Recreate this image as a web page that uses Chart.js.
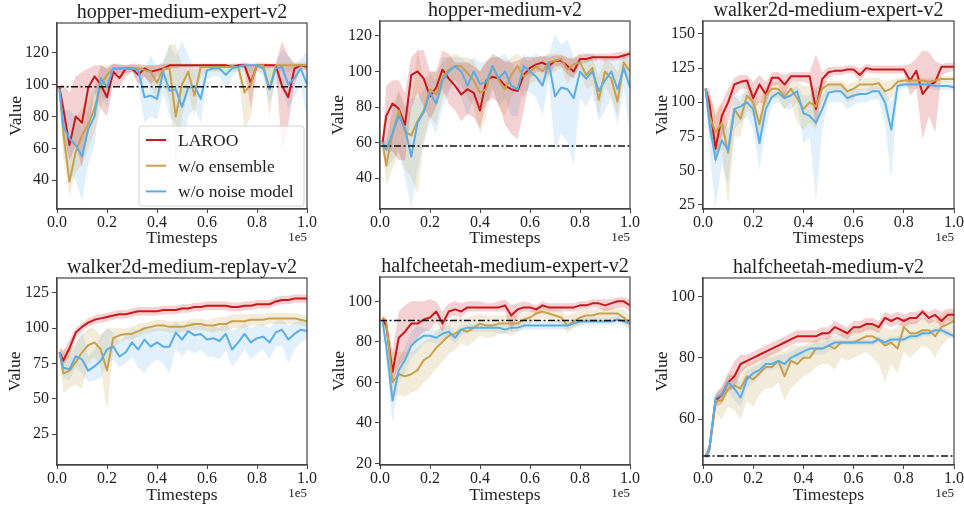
<!DOCTYPE html>
<html>
<head>
<meta charset="utf-8">
<script src="https://cdn.jsdelivr.net/npm/chart.js@4.4.0/dist/chart.umd.min.js"></script>
<style>
    html, body { margin: 0; padding: 0; background: #fff; }
    #wrap { position: relative; width: 964px; height: 506px; overflow: hidden; }
    canvas { position: absolute; }
</style>
</head>
<body>
<div id="wrap"></div>
<script>
'use strict';

// timesteps (x) shared by every run
const steps = [1000, 2500, 5000, 7500, 10000, 12500, 15000, 17500, 20000, 22500, 25000, 27500, 30000, 32500, 35000, 37500, 40000, 42500, 45000, 47500, 50000, 52500, 55000, 57500, 60000, 62500, 65000, 67500, 70000, 72500, 75000, 77500, 80000, 82500, 85000, 87500, 90000, 92500, 95000, 97500, 100000];
const xTicks = [0, 20000, 40000, 60000, 80000, 100000];
const seriesNames = ['LAROO', 'w/o ensemble', 'w/o noise model'];

// hopper-medium-expert-v2
const p1Laroo     = [98,85,62,80,76,98,105,100,92,108,104,110,110,106,110,108,109,110,112,112,112,112,112,112,112,112,112,112,111,112,112,101,112,112,112,112,99,92,110,112,111];
const p1LarooHi   = [100,100,95,105,108,110,112,112,110,113,112,112,113,113,112,112,112,113,113,113,113,113,113,113,113,113,113,113,113,113,114,113,113,113,113,113,127,118,113,113,113];
const p1LarooLo   = [96,70,52,62,48,72,95,85,80,100,98,105,108,100,105,100,105,108,110,110,111,111,111,111,111,111,111,111,110,111,110,85,111,110,110,111,58,75,100,110,109];
const p1NoEns     = [97,70,39,58,68,75,85,100,106,110,110,110,110,110,109,108,101,110,110,80,100,108,93,111,111,111,111,111,111,111,95,100,112,112,97,112,112,112,112,112,112];
const p1NoEnsHi   = [99,85,65,80,85,90,100,112,112,113,113,112,112,112,112,112,112,113,125,125,112,112,112,113,113,113,113,113,113,113,112,112,114,114,113,113,113,113,114,114,114];
const p1NoEnsLo   = [95,55,30,45,50,60,70,85,95,105,107,107,108,107,105,100,88,100,90,50,80,95,80,105,108,108,108,108,108,108,72,80,108,108,80,108,108,108,109,109,109];
const p1NoNoise   = [97,74,66,62,55,72,80,104,98,110,110,110,110,109,92,93,91,108,96,97,86,98,99,91,109,110,110,106,110,111,112,112,112,110,97,110,111,100,104,110,100];
const p1NoNoiseHi = [99,85,84,80,72,85,95,112,110,113,113,112,112,112,110,118,112,115,125,118,127,118,110,112,113,113,113,112,113,113,113,113,113,113,112,113,122,118,113,116,121];
const p1NoNoiseLo = [95,60,45,40,27,50,62,95,85,105,107,107,108,100,76,80,78,95,80,75,58,80,85,76,103,105,105,97,105,108,108,108,108,105,88,100,100,85,92,100,78];
const p1Ref = 98.5;
const p1Ticks = [40, 60, 80, 100, 120];

// hopper-medium-v2
const p2Laroo     = [60,75,82,79,70,98,100,96,86,91,101,96,92,87,90,88,78,95,97,96,92,90,89,98,102,104,105,103,106,106,103,100,107,107,108,108,108,108,108,109,110];
const p2LarooHi   = [62,92,95,95,88,108,112,112,100,100,112,110,105,105,105,103,100,106,108,108,106,105,106,108,108,108,109,108,109,109,108,107,110,110,110,110,110,110,111,111,112];
const p2LarooLo   = [58,55,55,50,50,80,88,80,73,80,90,82,78,72,76,74,68,83,85,82,70,65,62,78,96,100,100,98,103,103,98,96,104,105,106,106,106,106,106,107,108];
const p2NoEns     = [60,47,65,78,66,64,72,78,90,87,97,101,103,103,99,95,88,90,103,95,90,98,103,97,100,103,100,105,106,107,101,104,105,98,102,84,100,96,83,105,100];
const p2NoEnsHi   = [62,60,80,90,80,82,113,95,100,100,105,108,110,108,108,106,100,105,110,108,105,108,110,107,106,108,108,110,110,110,107,108,110,106,108,97,107,105,100,110,108];
const p2NoEnsLo   = [58,36,45,55,45,40,31,60,75,70,85,90,95,92,85,80,65,75,90,80,75,85,92,85,93,95,92,97,100,102,93,98,100,90,92,75,92,85,75,98,92];
const p2NoNoise   = [60,56,65,75,68,52,71,77,88,82,95,100,103,100,92,100,93,94,103,96,100,92,90,103,100,97,92,105,86,91,90,85,100,96,100,89,95,100,90,102,91];
const p2NoNoiseHi = [62,62,78,88,80,85,85,90,98,95,108,108,108,108,105,108,105,105,110,108,110,105,100,110,108,110,108,110,121,115,118,108,108,110,110,105,108,108,105,110,105];
const p2NoNoiseLo = [56,45,50,55,40,23,45,60,72,65,80,88,95,85,75,85,78,80,92,80,85,75,75,90,88,85,75,95,55,65,60,47,85,80,88,72,78,85,70,90,65];
const p2Ref = 58;
const p2Ticks = [40, 60, 80, 100, 120];

// walker2d-medium-expert-v2
const p3Laroo     = [110,100,66,90,100,113,115,116,103,113,106,118,118,113,119,119,119,119,95,117,122,123,123,124,124,120,125,124,124,124,124,124,124,116,123,106,112,115,126,126,126];
const p3LarooHi   = [111,110,90,100,110,118,120,120,115,120,115,122,122,120,122,122,122,122,135,122,126,126,126,127,127,125,128,127,127,127,127,127,127,128,132,138,137,130,128,129,129];
const p3LarooLo   = [109,85,55,75,85,105,110,110,95,100,98,112,113,105,115,115,115,113,82,110,118,120,120,121,121,115,122,121,121,121,121,121,121,105,110,73,90,78,120,122,123];
const p3NoEns     = [110,90,78,85,63,95,88,105,100,84,105,110,110,104,110,103,95,100,97,110,113,113,113,108,110,113,113,113,114,108,110,115,116,116,116,116,115,116,117,117,117];
const p3NoEnsHi   = [111,105,95,100,80,105,100,115,110,100,112,115,115,112,115,115,112,112,110,115,116,116,116,113,115,117,118,118,118,115,116,118,118,118,118,118,118,118,119,119,119];
const p3NoEnsLo   = [109,75,62,65,25,75,75,95,90,70,95,103,103,95,100,85,80,85,80,100,108,108,108,100,102,108,108,108,109,100,103,112,113,113,113,113,112,113,114,114,114];
const p3NoNoise   = [110,85,58,72,65,95,97,100,95,70,95,104,107,103,105,108,92,90,85,95,107,108,108,103,105,106,106,108,108,100,80,112,113,113,113,113,113,112,112,112,111];
const p3NoNoiseHi = [111,100,75,85,80,105,105,108,105,90,105,108,110,108,110,112,105,105,110,105,112,112,112,108,110,110,110,112,112,108,100,114,115,115,115,115,115,114,114,114,113];
const p3NoNoiseLo = [109,65,23,55,40,80,85,90,80,50,80,98,100,95,95,100,70,75,28,80,100,100,100,95,98,100,100,102,102,85,43,108,110,110,110,110,110,109,109,109,108];
const p3Ref = null;
const p3Ticks = [25, 50, 75, 100, 125, 150];

// walker2d-medium-replay-v2
const p4Laroo     = [83,77,86,97,101,104,106,107,108,109,110,110,111,112,112,112,112,113,113,113,114,114,115,115,116,116,116,116,115,115,116,116,117,117,117,119,120,120,121,121,121];
const p4LarooHi   = [86,84,92,100,104,107,109,110,111,112,113,113,114,115,115,115,115,116,116,116,117,117,118,118,119,119,119,119,118,118,119,119,120,120,120,122,123,123,124,124,124];
const p4LarooLo   = [80,74,80,93,98,101,103,104,105,106,107,107,108,109,109,109,109,110,110,110,111,111,112,112,113,113,113,113,112,112,113,113,114,114,114,116,117,117,118,118,118];
const p4NoEns     = [83,68,70,76,83,88,90,85,70,93,95,96,96,98,100,101,102,102,101,101,101,102,103,103,102,102,103,103,105,105,105,106,106,106,107,107,107,107,107,106,105];
const p4NoEnsHi   = [86,85,85,90,95,100,100,95,100,100,100,100,101,103,104,105,106,106,105,105,105,106,107,107,106,107,108,108,110,110,110,110,110,110,111,111,111,111,111,110,109];
const p4NoEnsLo   = [80,54,58,60,57,75,80,72,41,85,90,92,92,94,96,97,98,98,97,97,97,98,99,99,98,97,98,98,100,100,100,102,102,102,103,103,103,103,103,102,101];
const p4NoNoise   = [83,72,71,80,78,70,73,77,85,87,80,83,90,85,92,87,90,87,87,97,92,98,95,96,92,93,91,96,85,90,96,90,93,94,90,97,99,92,96,99,98];
const p4NoNoiseHi = [85,82,80,88,100,80,85,95,100,97,90,95,100,98,100,100,100,100,100,105,100,105,104,104,100,102,100,104,98,100,104,100,102,103,100,105,106,102,104,106,104];
const p4NoNoiseLo = [81,65,63,72,68,62,63,65,75,78,72,75,80,72,68,75,78,75,68,85,80,85,82,85,80,80,78,85,73,78,85,78,82,85,78,87,88,75,85,90,93];
const p4Ref = null;
const p4Ticks = [25, 50, 75, 100, 125];

// halfcheetah-medium-expert-v2
const p5Laroo     = [91,88,65,82,85,89,89,91,92,95,89,95,96,95,97,97,97,97,97,97,98,93,96,97,97,96,98,97,97,97,97,97,98,98,99,99,98,99,100,100,98];
const p5LarooHi   = [92,91,75,95,98,100,100,100,101,100,95,99,100,99,100,100,100,99,99,100,101,98,99,100,99,98,100,99,99,99,99,99,100,100,101,101,101,101,102,102,101];
const p5LarooLo   = [90,85,60,68,72,78,82,85,86,90,85,92,93,92,95,95,95,95,95,95,95,85,93,95,95,94,96,95,95,95,95,95,96,96,97,97,95,96,97,97,95];
const p5NoEns     = [92,90,60,64,63,64,66,71,73,77,80,83,84,86,85,87,89,88,88,89,89,89,89,91,92,94,95,94,93,92,88,90,92,93,93,94,94,94,94,92,89];
const p5NoEnsHi   = [93,93,75,75,75,75,77,80,82,85,88,90,92,92,92,93,94,93,93,93,93,93,93,94,95,97,98,97,96,95,93,94,96,96,96,97,97,97,97,96,93];
const p5NoEnsLo   = [91,85,52,54,53,55,56,60,63,67,70,74,76,79,78,80,83,82,82,84,84,83,85,87,89,91,92,91,90,89,84,87,88,90,90,91,91,91,91,89,86];
const p5NoNoise   = [90,78,51,66,71,78,81,83,83,82,84,85,82,86,87,87,87,87,87,87,86,87,87,88,88,88,88,88,88,88,88,89,90,90,90,90,90,90,91,90,89];
const p5NoNoiseHi = [91,85,60,72,77,85,88,87,86,86,87,88,85,88,89,89,89,89,89,89,88,89,89,90,90,90,90,90,90,90,90,91,92,92,92,92,92,92,93,92,91];
const p5NoNoiseLo = [89,70,40,60,65,72,75,79,80,79,81,82,79,83,85,85,85,85,85,84,84,85,85,86,86,86,86,86,86,86,86,87,88,88,88,88,88,88,89,88,86];
const p5Ref = 90.5;
const p5Ticks = [20, 40, 60, 80, 100];

// halfcheetah-medium-v2
const p6Laroo     = [48,50,66,68,72,74,78,79,80,81,82,83,84,85,86,87,87,87,87,88,88,90,89,88,90,90,91,91,90,93,92,93,92,93,93,95,93,94,92,94,94];
const p6LarooHi   = [49,52,68,71,75,79,81,81,82,83,84,85,86,87,88,89,89,89,89,90,90,92,91,90,92,92,93,93,92,95,94,95,94,95,95,96,95,96,95,96,96];
const p6LarooLo   = [47,48,64,65,69,70,75,77,78,79,80,81,82,83,84,85,85,85,85,86,86,88,87,86,88,88,89,89,88,91,90,91,90,91,91,93,91,92,90,92,92];
const p6NoEns     = [48,50,66,66,70,71,70,74,73,75,77,77,79,74,79,78,80,80,83,83,84,83,85,85,85,86,87,87,86,84,85,83,90,88,88,89,89,87,90,91,92];
const p6NoEnsHi   = [49,52,68,70,74,75,76,78,79,80,81,82,83,82,84,84,84,85,86,86,87,87,88,88,89,90,92,91,90,90,89,90,93,93,92,93,93,92,94,95,95];
const p6NoEnsLo   = [47,48,62,60,64,63,60,66,64,68,70,70,72,66,70,72,74,75,77,78,78,76,80,79,80,81,82,80,78,72,78,75,82,80,82,84,83,80,84,86,88];
const p6NoNoise   = [48,50,67,68,72,70,67,73,75,76,78,78,79,78,80,81,82,83,83,83,84,85,85,85,85,85,85,85,86,85,86,86,86,87,87,88,88,89,89,88,87];
const p6NoNoiseHi = [49,52,69,70,75,74,72,76,77,78,80,80,81,81,82,83,84,84,85,85,86,86,86,86,86,86,86,86,87,86,87,87,87,88,88,89,89,90,90,89,88];
const p6NoNoiseLo = [47,48,65,66,69,66,64,70,72,74,76,76,77,75,78,79,80,81,81,81,82,83,84,84,84,84,84,84,85,84,85,85,85,86,86,87,87,88,88,87,86];
const p6Ref = 48;
const p6Ticks = [60, 80, 100];

// styling
const FONT = "'Liberation Serif', 'Times New Roman', serif";
const INK = '#222';
const AXIS = '#444';
const colors = ['#c8191e', '#c9a04c', '#5aaee6'];
const fills = ['rgba(200,25,30,0.2)', 'rgba(201,160,76,0.2)', 'rgba(90,174,230,0.18)'];

// panel layout: canvas box and chart area (page pixels)
let panels = [
    { title: 'hopper-medium-expert-v2', runs: [[p1Laroo, p1LarooLo, p1LarooHi], [p1NoEns, p1NoEnsLo, p1NoEnsHi], [p1NoNoise, p1NoNoiseLo, p1NoNoiseHi]], ref: p1Ref, ticks: p1Ticks,
      yMin: 22, yMax: 138.5, box: [0, 0, 320, 250], area: [57, 307, 23, 209], valueX: 16, legend: true },
    { title: 'hopper-medium-v2', runs: [[p2Laroo, p2LarooLo, p2LarooHi], [p2NoEns, p2NoEnsLo, p2NoEnsHi], [p2NoNoise, p2NoNoiseLo, p2NoNoiseHi]], ref: p2Ref, ticks: p2Ticks,
      yMin: 22.6, yMax: 128.4, box: [320, 0, 320, 250], area: [380, 630, 21, 209], valueX: 18 },
    { title: 'walker2d-medium-expert-v2', runs: [[p3Laroo, p3LarooLo, p3LarooHi], [p3NoEns, p3NoEnsLo, p3NoEnsHi], [p3NoNoise, p3NoNoiseLo, p3NoNoiseHi]], ref: p3Ref, ticks: p3Ticks,
      yMin: 21.9, yMax: 159.5, box: [640, 0, 324, 250], area: [703, 954, 21, 209], valueX: 22.7 },
    { title: 'walker2d-medium-replay-v2', runs: [[p4Laroo, p4LarooLo, p4LarooHi], [p4NoEns, p4NoEnsLo, p4NoEnsHi], [p4NoNoise, p4NoNoiseLo, p4NoNoiseHi]], ref: p4Ref, ticks: p4Ticks,
      yMin: 3.2, yMax: 135.6, box: [0, 250, 320, 256], area: [57, 307, 278, 465], valueX: 15.7 },
    { title: 'halfcheetah-medium-expert-v2', runs: [[p5Laroo, p5LarooLo, p5LarooHi], [p5NoEns, p5NoEnsLo, p5NoEnsHi], [p5NoNoise, p5NoNoiseLo, p5NoNoiseHi]], ref: p5Ref, ticks: p5Ticks,
      yMin: 19.2, yMax: 112, box: [320, 250, 320, 256], area: [380, 630, 277, 465], valueX: 19 },
    { title: 'halfcheetah-medium-v2', runs: [[p6Laroo, p6LarooLo, p6LarooHi], [p6NoEns, p6NoEnsLo, p6NoEnsHi], [p6NoNoise, p6NoNoiseLo, p6NoNoiseHi]], ref: p6Ref, ticks: p6Ticks,
      yMin: 45.1, yMax: 106, box: [640, 250, 324, 256], area: [703, 954, 278, 465], valueX: 22.7 }
];

let toPoints = arr => steps.map((t, i) => ({ x: t, y: arr[i] }));

// frame, title, offset text and legend
let decor = {
    id: 'decor',
    afterDraw(chart, args, opts) {
        let { ctx, chartArea: a } = chart;
        ctx.save();
        ctx.strokeStyle = AXIS;
        ctx.lineWidth = 1.2;
        ctx.strokeRect(a.left, a.top, a.right - a.left, a.bottom - a.top);

        ctx.fillStyle = INK;
        ctx.textBaseline = 'alphabetic';
        ctx.textAlign = 'center';
        ctx.font = '20px ' + FONT;
        ctx.fillText(opts.title, (a.left + a.right) / 2, a.top - 5);

        ctx.textAlign = 'right';
        ctx.font = '13px ' + FONT;
        ctx.fillText('1e5', a.right, a.bottom + 31.5);

        if (opts.legend) {
            let w = 165, h = 80;
            let x = a.right - 3 - w, y = a.bottom - 3 - h;
            ctx.beginPath();
            ctx.roundRect(x, y, w, h, 3);
            ctx.fillStyle = 'rgba(255,255,255,0.8)';
            ctx.fill();
            ctx.strokeStyle = '#d4d4d4';
            ctx.lineWidth = 1;
            ctx.stroke();
            ctx.textAlign = 'left';
            ctx.font = '17.5px ' + FONT;
            seriesNames.forEach((name, i) => {
                let ly = y + 14 + i * 25.7;
                ctx.strokeStyle = colors[i];
                ctx.lineWidth = 2;
                ctx.beginPath();
                ctx.moveTo(x + 7, ly);
                ctx.lineTo(x + 27, ly);
                ctx.stroke();
                ctx.fillStyle = INK;
                ctx.fillText(name, x + 39, ly + 6);
            });
        }
        ctx.restore();
    }
};

let wrap = document.getElementById('wrap');

panels.forEach(p => {
    let [bx, by, bw, bh] = p.box;
    let [al, ar, at, ab] = p.area;
    let canvas = document.createElement('canvas');
    canvas.width = bw;
    canvas.height = bh;
    canvas.style.left = bx + 'px';
    canvas.style.top = by + 'px';
    wrap.appendChild(canvas);

    let datasets = [];
    // shaded bands first (drawn beneath the lines)
    p.runs.forEach((run, i) => {
        datasets.push({ data: toPoints(run[1]), borderWidth: 0, pointRadius: 0, fill: false, order: 10 + i });
        datasets.push({ data: toPoints(run[2]), borderWidth: 0, pointRadius: 0, fill: '-1', backgroundColor: fills[i], order: 10 + i });
    });
    p.runs.forEach((run, i) => {
        datasets.push({
            label: seriesNames[i], data: toPoints(run[0]), borderColor: colors[i], borderWidth: 2,
            pointRadius: 0, fill: false, order: 3 - i, borderJoinStyle: 'round'
        });
    });
    if (p.ref !== null) {
        datasets.push({
            data: [{ x: 0, y: p.ref }, { x: 100000, y: p.ref }], borderColor: '#111', borderWidth: 1.5,
            borderDash: [7, 2.5, 2, 2.5], pointRadius: 0, fill: false, order: 0
        });
    }

    let tickFont = { family: FONT, size: 16 };
    let titleFont = { family: FONT, size: 17.5 };

    new Chart(canvas, {
        type: 'line',
        data: { datasets: datasets },
        plugins: [decor],
        options: {
            responsive: false,
            animation: false,
            events: [],
            layout: { padding: { left: 0, top: at - by, right: bx + bw - ar, bottom: 0 } },
            plugins: {
                legend: { display: false },
                tooltip: { enabled: false },
                decor: { title: p.title, legend: !!p.legend }
            },
            scales: {
                x: {
                    type: 'linear', min: 0, max: 100000,
                    afterBuildTicks: s => { s.ticks = xTicks.map(v => ({ value: v })); },
                    afterFit: s => { s.height = by + bh - ab; s.paddingLeft = 0; s.paddingRight = 0; },
                    ticks: { font: tickFont, color: INK, padding: 0, maxRotation: 0, autoSkip: false,
                             callback: v => (v / 1e5).toFixed(1) },
                    grid: { drawOnChartArea: false, tickLength: 4, color: AXIS },
                    border: { color: AXIS, width: 1.2 },
                    title: { display: true, text: 'Timesteps', font: titleFont, color: INK,
                             padding: { top: 0, bottom: by === 0 ? 1.5 : 0 } }
                },
                y: {
                    min: p.yMin, max: p.yMax,
                    afterBuildTicks: s => { s.ticks = p.ticks.map(v => ({ value: v })); },
                    afterFit: s => { s.width = al - bx; },
                    ticks: { font: tickFont, color: INK, padding: 3 },
                    grid: { drawOnChartArea: false, tickLength: 5, color: AXIS },
                    border: { color: AXIS, width: 1.2 },
                    title: { display: true, text: 'Value', font: titleFont, color: INK,
                             padding: { top: p.valueX - 10.5, bottom: 0 } }
                }
            }
        }
    });
});
</script>
</body>
</html>
